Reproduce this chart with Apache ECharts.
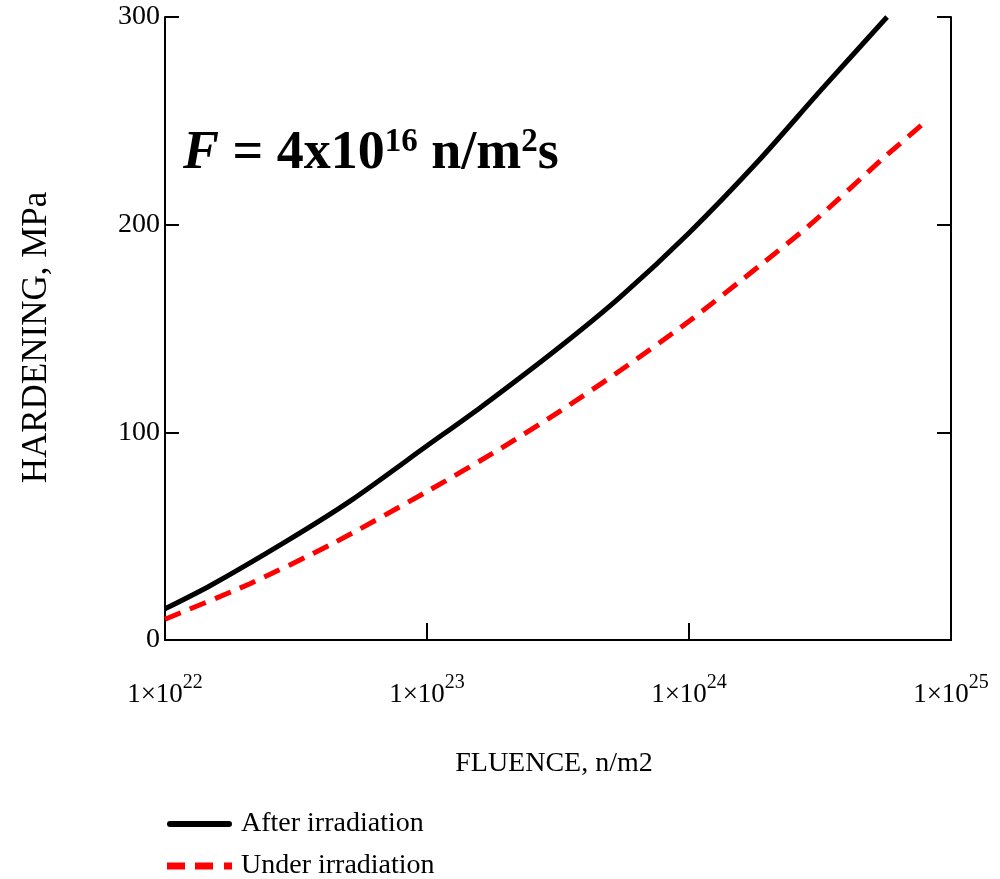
<!DOCTYPE html>
<html><head><meta charset="utf-8">
<script src="https://cdn.jsdelivr.net/npm/echarts@6/dist/echarts.min.js"></script>
<style>html,body{margin:0;padding:0;background:#fff}#c{width:1000px;height:879px}</style>
</head><body><div id="c"></div>
<script>
// Fluence (n/m2) and hardening (MPa)
const fluenceAfter   = [1e22, 1.48e22, 2.9e22, 5.1e22, 1e23, 1.6e23, 3.2e23, 5.5e23, 1e24, 1.85e24, 3.2e24, 5.7e24];
const hardeningAfter = [15,   26,      47.5,   67,     93.5, 112,    141,    165.5,  196,  231,     265,    300];
const fluenceUnder   = [1e22, 2.1e22, 4.3e22, 1e23, 1.9e23, 3.2e23, 5.5e23, 1e24, 1.85e24, 2.9e24, 5.4e24, 7.9e24];
const hardeningUnder = [10,   27,     46,     71.5, 92,     110,    130,    153.5, 180,    200,    231,    249];
const seriesNames = ['After irradiation', 'Under irradiation'];
const yTicks = [0, 100, 200, 300];
const xAxisTitle = 'FLUENCE, n/m2';
const yAxisTitle = 'HARDENING, MPa';

const pairs = (xs, ys) => xs.map((x, i) => [x, ys[i]]);
const serif = '"Liberation Serif", "DejaVu Serif", serif';
const legendText = {fontFamily: serif, fontSize: 28, color: '#000', lineHeight: 30, padding: [0, 0, 0, 4]};

const chart = echarts.init(document.getElementById('c'), null, {renderer: 'canvas'});
chart.setOption({
  animation: false,
  backgroundColor: '#fff',
  grid: {left: 165, right: 49, top: 17, bottom: 239, containLabel: false},
  legend: [{
    orient: 'vertical', left: 167, top: 809, itemWidth: 65, itemHeight: 7, padding: 0,
    textStyle: legendText,
    data: [{name: seriesNames[0], icon: 'path://M3,0H62A3,3 0 0 1 62,6H3A3,3 0 0 1 3,0Z'}]
  }, {
    orient: 'vertical', left: 167, top: 851, itemWidth: 65, itemHeight: 7, padding: 0,
    textStyle: legendText,
    data: [{name: seriesNames[1], icon: 'path://M0,0H18V7H0Z M28,0H46V7H28Z M57,0H65V7H57Z'}]
  }],
  xAxis: [{
    type: 'log', logBase: 10, min: 1e22, max: 1e25,
    name: xAxisTitle, nameLocation: 'middle', nameGap: 110,
    nameTextStyle: {fontFamily: serif, fontSize: 28, color: '#000', padding: [0, 8, 0, 0]},
    axisLine: {show: true, lineStyle: {color: '#000', width: 2}},
    axisTick: {show: true, inside: true, length: 17, lineStyle: {color: '#000', width: 2}},
    minorTick: {show: false},
    splitLine: {show: false},
    axisLabel: {
      margin: 33,
      formatter: v => '{a|1×10}{b|' + Math.round(Math.log10(v)) + '}',
      rich: {
        a: {fontFamily: serif, fontSize: 27, color: '#000'},
        b: {fontFamily: serif, fontSize: 20, color: '#000', verticalAlign: 'bottom', padding: [0, 0, 23, 0]}
      }
    }
  }, {
    type: 'log', logBase: 10, min: 1e22, max: 1e25, position: 'top',
    axisLine: {show: true, lineStyle: {color: '#000', width: 2}},
    axisTick: {show: false}, axisLabel: {show: false}, splitLine: {show: false}
  }],
  yAxis: [{
    type: 'value', min: 0, max: 300, interval: 100,
    name: yAxisTitle, nameLocation: 'middle', nameGap: 111, nameRotate: 90,
    nameTextStyle: {fontFamily: serif, fontSize: 35, color: '#000', padding: [0, 18, 0, 0]},
    axisLine: {show: true, lineStyle: {color: '#000', width: 2}},
    axisTick: {show: true, inside: true, length: 14, lineStyle: {color: '#000', width: 2}},
    splitLine: {show: false},
    axisLabel: {margin: 5, fontFamily: serif, fontSize: 28, color: '#000', padding: [9, 0, 0, 0],
      formatter: v => yTicks.includes(v) ? String(v) : ''}
  }, {
    type: 'value', min: 0, max: 300, interval: 100, position: 'right',
    axisLine: {show: true, lineStyle: {color: '#000', width: 2}},
    axisTick: {show: true, inside: true, length: 14, lineStyle: {color: '#000', width: 2}},
    axisLabel: {show: false}, splitLine: {show: false}
  }],
  series: [{
    name: seriesNames[0], type: 'line', xAxisIndex: 0, yAxisIndex: 0,
    data: pairs(fluenceAfter, hardeningAfter), smooth: 0.25,
    symbol: 'none', showSymbol: false, clip: true,
    itemStyle: {color: '#000'},
    lineStyle: {color: '#000', width: 5}
  }, {
    name: seriesNames[1], type: 'line', xAxisIndex: 0, yAxisIndex: 0,
    data: pairs(fluenceUnder, hardeningUnder), smooth: 0.25,
    symbol: 'none', showSymbol: false, clip: true,
    itemStyle: {color: '#ff0000'},
    lineStyle: {color: '#ff0000', width: 5, type: [17, 10]}
  }],
  graphic: [{
    type: 'text', left: 183, top: 126,
    style: {
      text: '{i|F}{n| = 4x10}{s|16}{n| n/m}{s|2}{n|s}',
      rich: {
        i: {fontFamily: serif, fontSize: 54, fontWeight: 'bold', fontStyle: 'italic', fill: '#000'},
        n: {fontFamily: serif, fontSize: 54, fontWeight: 'bold', fill: '#000'},
        s: {fontFamily: serif, fontSize: 33, fontWeight: 'bold', fill: '#000', verticalAlign: 'bottom', padding: [0, 0, 24, 0]}
      }
    }
  }]
});
</script></body></html>
